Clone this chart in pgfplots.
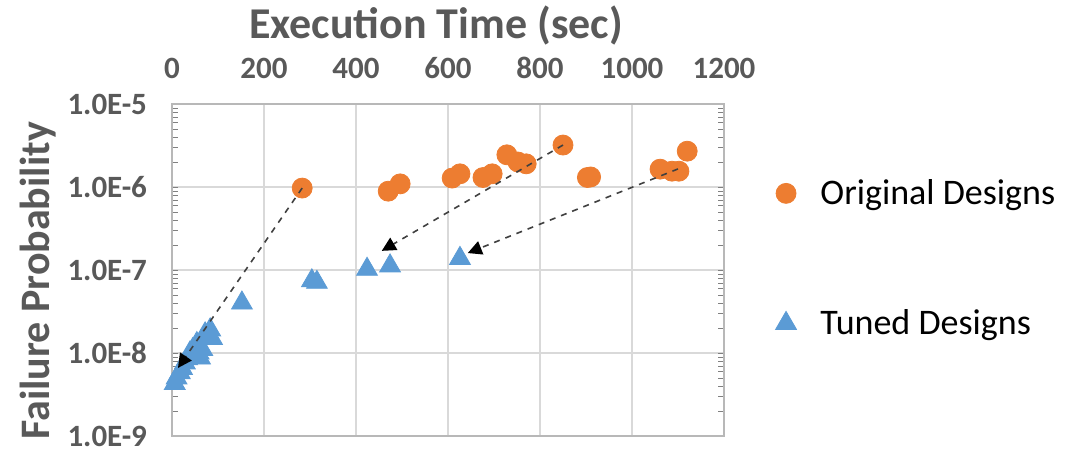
\documentclass[border=0pt]{standalone}
\usepackage{fontspec}
\setmainfont{Carlito}
\usepackage{pgfplots}
\pgfplotsset{compat=1.18}
\usetikzlibrary{arrows.meta}
\definecolor{orig}{HTML}{ED7D31}
\definecolor{tuned}{HTML}{5B9BD5}
\definecolor{gridc}{HTML}{D9D9D9}
\definecolor{txtc}{HTML}{595959}
\definecolor{arrc}{HTML}{404040}
\begin{document}
\begin{tikzpicture}
\begin{axis}[
  set layers,
  at={(0,0)}, anchor=south west,
  scale only axis, width=276pt, height=166pt,
  xmin=0, xmax=1200, ymin=1e-9, ymax=1e-5,
  ymode=log,
  xtick={0,200,...,1200},
  ytick={1e-9,1e-8,1e-7,1e-6,1e-5},
  yticklabels={1.0E-9,1.0E-8,1.0E-7,1.0E-6,1.0E-5},
  xticklabel pos=upper,
  major tick length=0pt,
  grid=major,
  major grid style={draw=gridc, line width=0.9pt},
  axis line style={draw=gridc!85!black, line width=0.9pt},
  /pgf/number format/1000 sep={},
  /pgf/number format/assume math mode=true,
  ticklabel style={font=\fontsize{15.5}{18}\selectfont\bfseries, text=txtc},
  xticklabel style={yshift=9pt},
  yticklabel style={xshift=-9pt, inner ysep=0.5pt},
  xlabel={Execution Time (sec)},
  ylabel={Failure Probability},
  xlabel style={font=\fontsize{22}{26}\selectfont\bfseries, text=txtc, yshift=-1pt, xshift=-6pt},
  ylabel style={font=\fontsize{21}{25}\selectfont\bfseries, text=txtc, yshift=1pt, xshift=-5.5pt, inner ysep=1pt},
  legend style={draw=none, fill=none, at={(1.082,0.535)}, anchor=west,
    font=\fontsize{18}{21}\selectfont, text=black, row sep=47pt,
    /tikz/every odd column/.append style={column sep=10pt}},
  legend cell align=left,
  clip=false,
]
\addplot[only marks, mark=*, mark size=5pt, color=orig, mark options={fill=orig, draw=orig}] coordinates {
(283,9.7e-7) (470,8.9e-7) (496,1.09e-6) (609,1.28e-6) (626,1.44e-6)
(676,1.3e-6) (696,1.44e-6) (728,2.44e-6) (752,2.0e-6) (770,1.9e-6)
(850,3.2e-6) (903,1.3e-6) (910,1.32e-6) (1061,1.64e-6) (1087,1.55e-6)
(1102,1.55e-6) (1120,2.7e-6)
};
\addlegendentry{Original Designs}
\addplot[only marks, mark=triangle*, mark size=6pt, color=tuned, mark options={fill=tuned, draw=tuned}] coordinates {
(6,4.3e-9) (10,5.0e-9) (17,5.8e-9) (22,6.5e-9) (28,7.6e-9) (33,8.5e-9)
(39,1.0e-8) (45,1.1e-8) (54,1.3e-8) (58,1.0e-8) (61,8.7e-9) (66,1.1e-8)
(72,1.7e-8) (83,1.9e-8) (87,1.5e-8) (152,4.0e-8) (304,7.4e-8) (315,7.1e-8)
(424,1.02e-7) (474,1.12e-7) (626,1.38e-7)
};
\addlegendentry{Tuned Designs}
\begin{pgfonlayer}{axis foreground}
\draw[arrc, dashed, line width=0.8pt, -{Triangle[length=7pt,width=7pt,black]}] (axis cs:283,9.7e-7) -- (axis cs:13,6.6e-9);
\draw[arrc, dashed, line width=0.8pt, -{Triangle[length=7pt,width=7pt,black]}] (axis cs:850,3.2e-6) -- (axis cs:456,1.7e-7);
\draw[arrc, dashed, line width=0.8pt, -{Triangle[length=7pt,width=7pt,black]}] (axis cs:1100,1.65e-6) -- (axis cs:643,1.6e-7);
\end{pgfonlayer}
\end{axis}
\pgfresetboundingbox
\path[use as bounding box] (-86pt,-8.5pt) rectangle (447pt,218pt);
\end{tikzpicture}
\end{document}
